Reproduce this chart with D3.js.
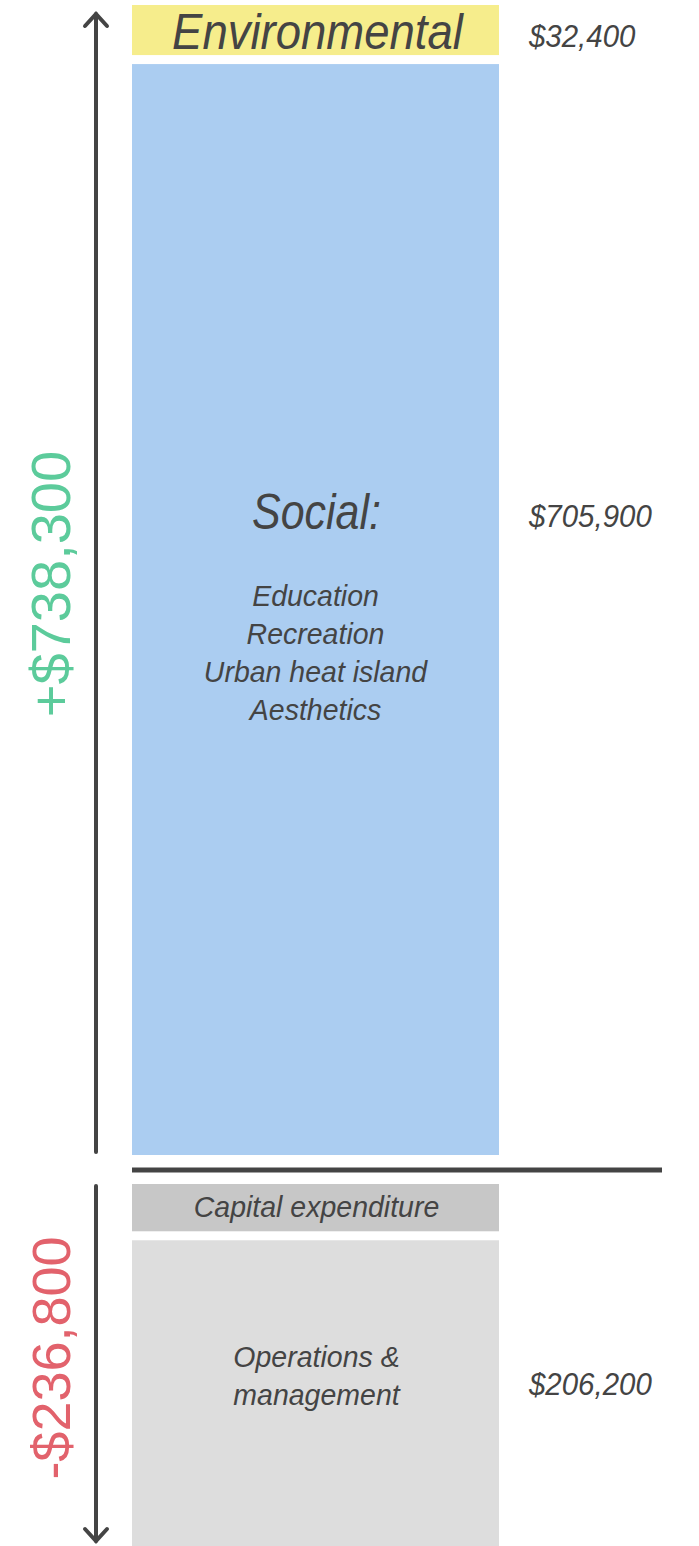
<!DOCTYPE html>
<html>
<head>
<meta charset="utf-8">
<script src="https://cdn.jsdelivr.net/npm/d3@7"></script>
<style>
  html, body { margin: 0; padding: 0; background: #fff; }
  svg { display: block; }
</style>
</head>
<body>
<svg id="chart" width="699" height="1546"></svg>
<script>
// ---- data ----
const categories = ["Environmental", "Social", "Capital expenditure", "Operations & management"];
const values = [32400, 705900, -30600, -206200];
const valueLabels = ["$32,400", "$705,900", "", "$206,200"];
const barLabels = [["Environmental"], ["Social:"], ["Capital expenditure"], ["Operations &", "management"]];
const socialItems = ["Education", "Recreation", "Urban heat island", "Aesthetics"];
const totalLabels = ["+$738,300", "-$236,800"];
const colors = ["#f6ed8c", "#abcdf1", "#c7c7c7", "#dddddd"];

// ---- layout ----
const svg = d3.select("#chart");
const ink = "#444444";
const font = "'Liberation Sans', Arial, sans-serif";

const x = d3.scaleLinear().domain([0, 1]).range([132, 499]);
const zeroY = 1170;
const gapToZero = 14, gap = 9;
const h = d3.scaleLinear().domain([0, 738300]).range([0, 1141]);

// stack: positives upward from the zero line (last category nearest zero), negatives downward
let posCursor = zeroY - gapToZero - 1;
let negCursor = zeroY + gapToZero;
const bars = values.map((v, i) => ({ i, v, cat: categories[i] }));
bars.filter(d => d.v >= 0).reverse().forEach(d => {
  d.y1 = posCursor; d.y0 = d.y1 - h(d.v); posCursor = d.y0 - gap;
});
bars.filter(d => d.v < 0).forEach(d => {
  d.y0 = negCursor; d.y1 = d.y0 + h(-d.v); negCursor = d.y1 + gap;
});

svg.selectAll("rect.bar").data(bars).join("rect")
  .attr("class", "bar")
  .attr("x", x(0)).attr("width", x(1) - x(0))
  .attr("y", d => d.y0).attr("height", d => d.y1 - d.y0)
  .attr("fill", d => colors[d.i]);

// zero line
svg.append("line").attr("x1", 132).attr("x2", 662)
  .attr("y1", zeroY).attr("y2", zeroY)
  .attr("stroke", ink).attr("stroke-width", 5);

// condensed italic label helper
function label(t, px, py, size, sx, anchor) {
  svg.append("text")
    .attr("transform", `translate(${px},${py}) scale(${sx},1)`)
    .attr("text-anchor", anchor || "middle")
    .attr("font-family", font).attr("font-style", "italic")
    .attr("font-size", size).attr("fill", ink).text(t);
}
const cx = (x(0) + x(1)) / 2;
label(barLabels[0][0], cx + 2, 49, 50, 0.91);
label(barLabels[1][0], cx + 1, 529, 50, 0.86);
socialItems.forEach((t, i) => label(t, cx, 606 + i * 38, 30, 0.95));
label(barLabels[2][0], cx + 1, 1217, 30, 0.95);
barLabels[3].forEach((t, i) => label(t, cx + 1, 1367 + i * 38, 30, 0.95));

// value labels on the right
const valueY = [47, 527, null, 1395];
valueLabels.forEach((t, i) => { if (t) label(t, 529, valueY[i], 31, 0.95, "start"); });

// arrows
const ax = 96;
function arrow(yTail, yTip, dir) {
  svg.append("line").attr("x1", ax).attr("x2", ax).attr("y1", yTail).attr("y2", yTip)
    .attr("stroke", ink).attr("stroke-width", 4).attr("stroke-linecap", "round");
  svg.append("path")
    .attr("d", `M${ax - 11},${yTip - dir * 12} L${ax},${yTip} L${ax + 11},${yTip - dir * 12}`)
    .attr("fill", "none").attr("stroke", ink).attr("stroke-width", 4)
    .attr("stroke-linecap", "round").attr("stroke-linejoin", "miter");
}
arrow(1152, 14, -1);
arrow(1186, 1541, 1);

// totals (rotated)
svg.append("text").attr("transform", "translate(70,584) rotate(-90)")
  .attr("text-anchor", "middle").attr("font-family", font)
  .attr("font-size", 56).attr("fill", "#5ccb9b").text(totalLabels[0]);
svg.append("text").attr("transform", "translate(70,1358) rotate(-90)")
  .attr("text-anchor", "middle").attr("font-family", font)
  .attr("font-size", 54).attr("fill", "#e2626c").text(totalLabels[1]);
</script>
</body>
</html>
